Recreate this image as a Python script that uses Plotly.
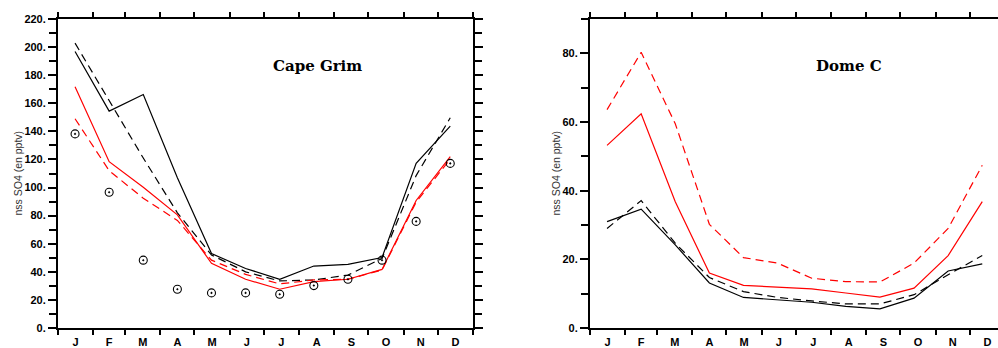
import plotly.graph_objects as go

# ---- data ----
months = ["J", "F", "M", "A", "M", "J", "J", "A", "S", "O", "N", "D"]
day_mid = [15, 45, 75, 105, 135, 165, 195, 225, 255, 285, 315, 345]          # data positions (day of year)
label_day = [15.5, 45, 74.5, 105, 135.5, 166, 196.5, 227.5, 258, 288.5, 319, 349.5]
month_start = [0, 31, 59, 90, 120, 151, 181, 212, 243, 273, 304, 334, 365]

cg_black_solid = [196.9, 154.4, 166.2, 107.0, 53.0, 42.4, 34.7, 44.1, 45.3, 50.2, 117.2, 143.8]
cg_black_dash = [202.8, 162.0, 121.0, 82.0, 52.0, 40.0, 33.5, 34.2, 37.7, 49.5, 108.5, 149.7]
cg_red_solid = [171.7, 118.4, 100.2, 80.6, 46.0, 34.7, 27.6, 33.0, 34.7, 41.7, 90.8, 122.1]
cg_red_dash = [149.0, 112.0, 92.4, 76.6, 48.3, 38.2, 31.4, 34.2, 34.7, 41.3, 89.6, 120.3]
cg_obs = [138.2, 96.7, 48.3, 27.6, 25.0, 25.0, 24.0, 30.2, 34.7, 48.3, 75.9, 117.2]

dc_black_solid = [31.0, 34.6, 24.2, 13.1, 8.9, 8.2, 7.5, 6.3, 5.6, 8.7, 16.6, 18.7]
dc_black_dash = [29.0, 37.1, 24.7, 14.7, 10.6, 8.9, 7.9, 7.0, 7.0, 9.7, 15.5, 21.1]
dc_red_solid = [53.2, 62.4, 36.8, 16.0, 12.4, 12.0, 11.4, 10.2, 9.0, 11.6, 21.1, 36.8]
dc_red_dash = [63.6, 80.3, 59.5, 30.2, 20.5, 18.9, 14.5, 13.5, 13.4, 18.9, 29.0, 47.4]

cg_yticks = list(range(0, 221, 20))
dc_yticks = list(range(0, 81, 20))

# ---- figure ----
W, H = 998, 348
ML, MR, MT, MB = 58, 0, 19, 18
plot_w = W - ML - MR
left_dom = [0, 415 / plot_w]
right_dom = [(590 - ML) / plot_w, 1.0]
right_xmax = 365 * (W - 590) / 415.0

fig = go.Figure()

def add_lines(xa, ya, bs, bd, rs, rd):
    for vals, color, dash in [(bs, "black", "solid"), (bd, "black", "8px,5px"),
                              (rs, "#ff0000", "solid"), (rd, "#ff0000", "8px,5px")]:
        fig.add_trace(go.Scatter(x=day_mid, y=vals, mode="lines", xaxis=xa, yaxis=ya,
                                 line=dict(color=color, width=1.2, dash=dash),
                                 showlegend=False, hoverinfo="skip"))

add_lines("x", "y", cg_black_solid, cg_black_dash, cg_red_solid, cg_red_dash)
fig.add_trace(go.Scatter(x=day_mid, y=cg_obs, mode="markers", xaxis="x", yaxis="y",
                         marker=dict(symbol="circle-open-dot", size=8, color="black",
                                     line=dict(width=1.1, color="black")),
                         showlegend=False, hoverinfo="skip"))
add_lines("x2", "y2", dc_black_solid, dc_black_dash, dc_red_solid, dc_red_dash)

tickfont = dict(family="Liberation Sans, Arial, sans-serif", size=11, color="black", weight="bold")

xcommon = dict(
    tickmode="array", tickvals=label_day, ticktext=months,
    ticks="outside", ticklen=3, tickcolor="rgba(0,0,0,0)",
    tickfont=tickfont, showgrid=False, zeroline=False,
    showline=True, linecolor="black", linewidth=2, mirror="ticks",
    minor=dict(tickmode="array", tickvals=month_start, ticks="outside",
               ticklen=5, tickwidth=2, tickcolor="black", showgrid=False),
)
fig.update_layout(
    xaxis=dict(domain=left_dom, range=[0, 365], anchor="y", **xcommon),
    xaxis2=dict(domain=right_dom, range=[0, right_xmax], anchor="y2", **xcommon),
    yaxis=dict(domain=[0, 1], range=[0, 220], anchor="x",
               tickmode="array", tickvals=cg_yticks, ticktext=[f"{v}." for v in cg_yticks],
               ticks="outside", ticklen=8, tickwidth=2, tickcolor="black",
               minor=dict(dtick=10, ticks="outside", ticklen=7, tickwidth=2, tickcolor="black",
                          showgrid=False),
               tickfont=tickfont, showgrid=False, zeroline=False,
               showline=True, linecolor="black", linewidth=2, mirror="ticks"),
    yaxis2=dict(domain=[0, 1], range=[0, 90], anchor="x2",
                tickmode="array", tickvals=dc_yticks, ticktext=[f"{v}." for v in dc_yticks],
                ticks="outside", ticklen=8, tickwidth=2, tickcolor="black",
                minor=dict(dtick=10, ticks="outside", ticklen=7, tickwidth=2, tickcolor="black",
                           showgrid=False),
                tickfont=tickfont, showgrid=False, zeroline=False,
                showline=True, linecolor="black", linewidth=2, mirror=False),
    width=W, height=H,
    margin=dict(l=ML, r=MR, t=MT, b=MB, pad=0),
    paper_bgcolor="white", plot_bgcolor="white",
    showlegend=False,
)

title_font = dict(family="DejaVu Serif, Liberation Serif, serif", size=15, color="black", weight="bold")
fig.add_annotation(x=227.8, y=186.8, xref="x", yref="y", text="Cape Grim",
                   showarrow=False, font=title_font)
fig.add_annotation(x=227.8, y=76.4, xref="x2", yref="y2", text="Dome C",
                   showarrow=False, font=title_font)

ylab_font = dict(family="Liberation Sans, Arial, sans-serif", size=10.5, color="#333")
fig.add_annotation(x=(17 - ML) / plot_w, y=0.5, xref="paper", yref="paper",
                   text="nss SO4 (en pptv)", textangle=-90, showarrow=False, font=ylab_font,
                   xanchor="center", yanchor="middle")
fig.add_annotation(x=(555 - ML) / plot_w, y=0.5, xref="paper", yref="paper",
                   text="nss SO4 (en pptv)", textangle=-90, showarrow=False, font=ylab_font,
                   xanchor="center", yanchor="middle")

fig.write_html("out.html", config={"displayModeBar": False},
               post_script="document.body.style.margin='0';document.body.style.overflow='hidden';")
